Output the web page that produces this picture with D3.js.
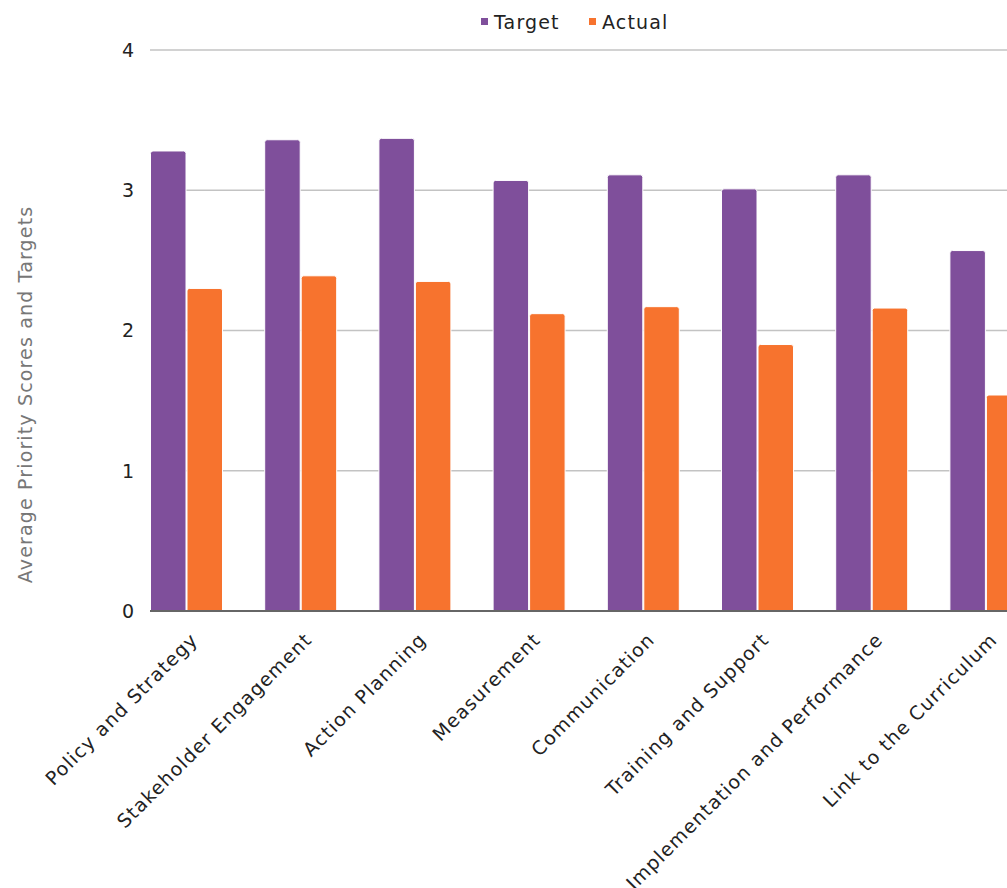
<!DOCTYPE html>
<html>
<head>
<meta charset="utf-8">
<script src="https://cdn.jsdelivr.net/npm/d3@7"></script>
<style>
  html, body { margin: 0; padding: 0; background: #ffffff; }
  svg { display: block; font-family: "DejaVu Sans", "Noto Sans", sans-serif; }
</style>
</head>
<body>
<svg id="chart" width="1007" height="888"></svg>
<script>
// Priority areas and their average scores
const categories = [
  "Policy and Strategy",
  "Stakeholder Engagement",
  "Action Planning",
  "Measurement",
  "Communication",
  "Training and Support",
  "Implementation and Performance",
  "Link to the Curriculum"
];
const seriesNames = ["Target", "Actual"];
const targetValues = [3.28, 3.36, 3.37, 3.07, 3.11, 3.01, 3.11, 2.57];
const actualValues = [2.30, 2.39, 2.35, 2.12, 2.17, 1.90, 2.16, 1.54];
const yTicks = [0, 1, 2, 3, 4];
const yTitle = "Average Priority Scores and Targets";

const colors = { Target: "#7f4f9b", Actual: "#f7732e" };

const W = 1007, H = 888;
const plot = { left: 150, top: 50, bottom: 611 };
const groupWidth = 114.2;
const fontSize = 19;
const spacing = "1.15px";

const svg = d3.select("#chart");

const x0 = d3.scaleBand()
  .domain(categories)
  .range([plot.left, plot.left + groupWidth * categories.length])
  .paddingInner(0).paddingOuter(0);

const xs = d3.scaleBand()
  .domain(seriesNames)
  .range([0.5, 73.5]);

const y = d3.scaleLinear().domain([0, 4]).range([plot.bottom, plot.top]);

// gridlines
svg.append("g")
  .selectAll("line")
  .data(yTicks.filter(d => d > 0))
  .join("line")
  .attr("x1", plot.left).attr("x2", W)
  .attr("y1", d => y(d)).attr("y2", d => y(d))
  .attr("stroke", "#c3c3c3").attr("stroke-width", 1.5);

// y tick labels
svg.append("g")
  .selectAll("text")
  .data(yTicks)
  .join("text")
  .attr("x", 134)
  .attr("y", d => y(d))
  .attr("dy", "0.36em")
  .attr("text-anchor", "end")
  .attr("font-size", fontSize)
  .attr("fill", "#222")
  .text(d => d);

// y axis title
svg.append("text")
  .attr("transform", `translate(32, ${(y(0) + y(4)) / 2 + 64}) rotate(-90)`)
  .attr("text-anchor", "middle")
  .attr("font-size", fontSize)
  .attr("letter-spacing", spacing)
  .attr("fill", "#777")
  .text(yTitle);

// bars with rounded top corners
function barPath(x, w, yTop, yBase, r) {
  const h = yBase - yTop;
  r = Math.min(r, h / 2, w / 2);
  return `M${x},${yBase}V${yTop + r}Q${x},${yTop} ${x + r},${yTop}` +
         `H${x + w - r}Q${x + w},${yTop} ${x + w},${yTop + r}V${yBase}Z`;
}

const rows = categories.map((c, i) => ({
  category: c,
  values: [
    { series: "Target", value: targetValues[i] },
    { series: "Actual", value: actualValues[i] }
  ]
}));

svg.append("g")
  .selectAll("g")
  .data(rows)
  .join("g")
  .attr("transform", d => `translate(${x0(d.category)},0)`)
  .selectAll("path")
  .data(d => d.values)
  .join("path")
  .attr("d", d => barPath(xs(d.series), xs.bandwidth() - 1, y(d.value), y(0), 2.5))
  .attr("fill", d => colors[d.series])
  .attr("stroke", "#ffffff")
  .attr("stroke-width", 1);

// baseline
svg.append("line")
  .attr("x1", plot.left).attr("x2", W)
  .attr("y1", y(0)).attr("y2", y(0))
  .attr("stroke", "#666").attr("stroke-width", 2);

// category labels, rotated
svg.append("g")
  .selectAll("text")
  .data(categories)
  .join("text")
  .attr("transform", d => `translate(${x0(d) + 49}, 641) rotate(-45)`)
  .attr("text-anchor", "end")
  .attr("font-size", fontSize)
  .attr("letter-spacing", spacing)
  .attr("fill", "#222")
  .text(d => d);

// legend
const legendItems = [
  { name: "Target", x: 481 },
  { name: "Actual", x: 589 }
];
const lg = svg.append("g")
  .selectAll("g")
  .data(legendItems)
  .join("g")
  .attr("transform", d => `translate(${d.x}, 18)`);
lg.append("rect")
  .attr("width", 7).attr("height", 7)
  .attr("fill", d => colors[d.name]);
lg.append("text")
  .attr("x", 13).attr("y", 4)
  .attr("dy", "0.36em")
  .attr("font-size", fontSize)
  .attr("letter-spacing", spacing)
  .attr("fill", "#222")
  .text(d => d.name);
</script>
</body>
</html>
